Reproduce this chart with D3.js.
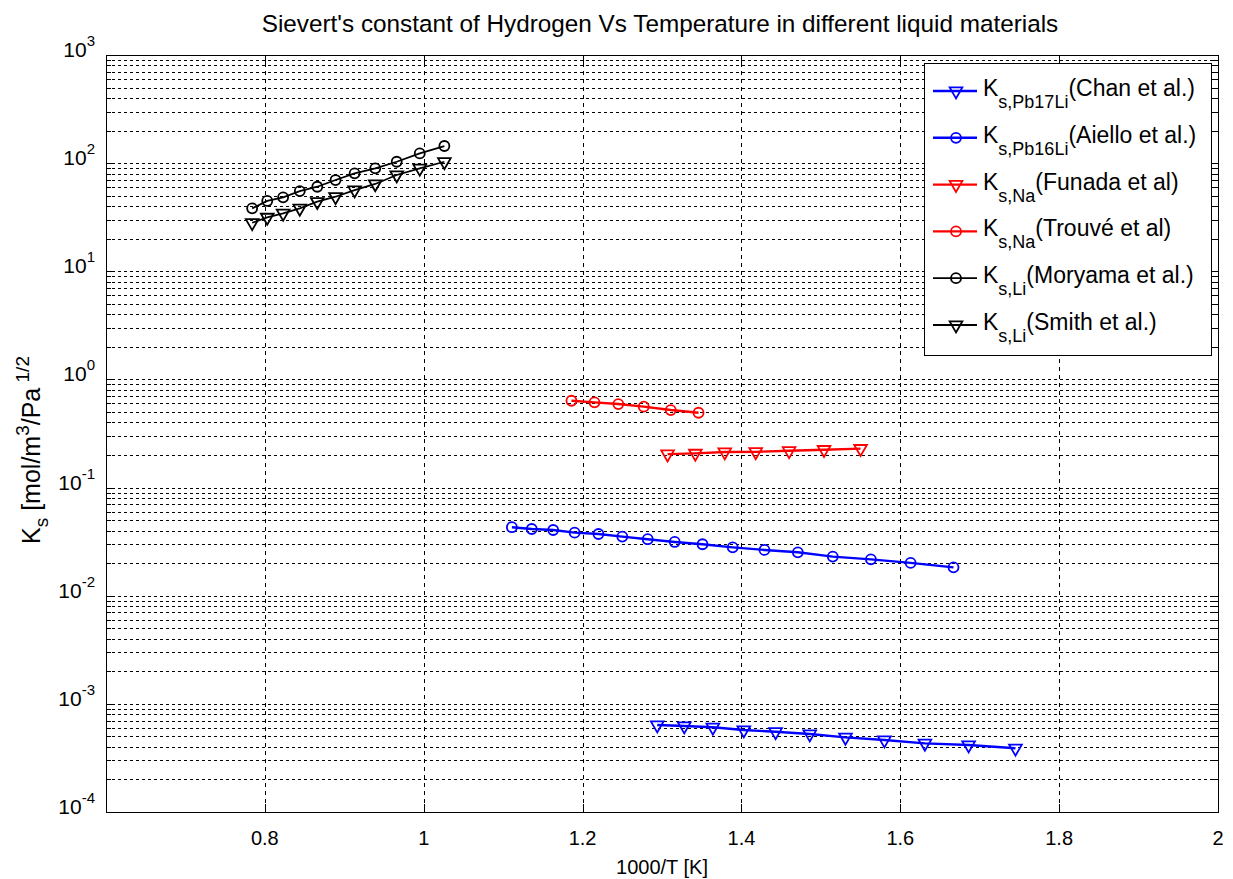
<!DOCTYPE html>
<meta charset="utf-8">
<script src="https://d3js.org/d3.v7.min.js"></script>
<style>
  body { margin: 0; background: #fff; }
  text { font-family: "Liberation Sans", Arial, sans-serif; fill: #000; }
</style>
<div id="my_dataviz"></div>
<script>
// ---- data (x = 1000/T, y = Ks) ----
var xChan = [1.294, 1.328, 1.364, 1.403, 1.443, 1.486, 1.531, 1.580, 1.631, 1.686, 1.745];
var yChan = [6.37e-4, 6.24e-4, 6.07e-4, 5.73e-4, 5.52e-4, 5.26e-4, 4.90e-4, 4.63e-4, 4.31e-4, 4.16e-4, 3.88e-4];

var xAiello = [1.111, 1.136, 1.163, 1.190, 1.220, 1.250, 1.282, 1.316, 1.351, 1.389, 1.429, 1.471, 1.515, 1.563, 1.613, 1.667];
var yAiello = [0.0430, 0.0414, 0.0405, 0.0383, 0.0372, 0.0352, 0.0333, 0.0314, 0.0299, 0.0280, 0.0265, 0.0252, 0.0230, 0.0217, 0.0201, 0.0183];

var xFunada = [1.307, 1.342, 1.379, 1.418, 1.460, 1.504, 1.550];
var yFunada = [0.204, 0.207, 0.213, 0.214, 0.219, 0.224, 0.229];

var xTrouve = [1.186, 1.215, 1.245, 1.277, 1.311, 1.346];
var yTrouve = [0.635, 0.614, 0.592, 0.560, 0.521, 0.492];

var xMoryama = [0.784, 0.803, 0.823, 0.844, 0.866, 0.889, 0.913, 0.939, 0.966, 0.995, 1.026];
var yMoryama = [38.2, 44.7, 48.3, 55.2, 60.5, 69.8, 80.5, 89.6, 103, 123, 144];

var xSmith = [0.784, 0.803, 0.823, 0.844, 0.866, 0.889, 0.913, 0.939, 0.966, 0.995, 1.026];
var ySmith = [28.1, 31.5, 34.4, 38.2, 44.0, 48.9, 56.4, 64.2, 77.7, 89.6, 103];

var xTicks = [0.8, 1, 1.2, 1.4, 1.6, 1.8, 2];
var yExponents = [-4, -3, -2, -1, 0, 1, 2, 3];

// series table built from the arrays above
var series = [
  {sub: "s,Pb17Li", name: "(Chan et al.)",     xs: xChan,    ys: yChan,    color: "#0000ff", marker: "tri"},
  {sub: "s,Pb16Li", name: "(Aiello et al.)",   xs: xAiello,  ys: yAiello,  color: "#0000ff", marker: "circ"},
  {sub: "s,Na",     name: "(Funada et al)",    xs: xFunada,  ys: yFunada,  color: "#ff0000", marker: "tri"},
  {sub: "s,Na",     name: "(Trouvé et al)",    xs: xTrouve,  ys: yTrouve,  color: "#ff0000", marker: "circ"},
  {sub: "s,Li",     name: "(Moryama et al.)",  xs: xMoryama, ys: yMoryama, color: "#000000", marker: "circ"},
  {sub: "s,Li",     name: "(Smith et al.)",    xs: xSmith,   ys: ySmith,   color: "#000000", marker: "tri"}
];

// ---- layout ----
var W = 1233, H = 879;
var margin = {top: 55, right: 15, bottom: 67, left: 106},
    width = W - margin.left - margin.right,
    height = H - margin.top - margin.bottom;

var svg = d3.select("#my_dataviz").append("svg")
    .attr("width", W).attr("height", H);

var g = svg.append("g")
    .attr("transform", "translate(" + margin.left + "," + margin.top + ")");

var x = d3.scaleLinear().domain([0.6, 2]).range([0, width]);
var y = d3.scaleLog().domain([1e-4, 1e3]).range([height, 0]);

// all log ticks (major + minor)
var yAll = [];
yExponents.forEach(function(e) {
  if (e < 3) { for (var k = 1; k <= 9; k++) yAll.push(k * Math.pow(10, e)); }
  else yAll.push(Math.pow(10, e));
});

// grid
g.append("g").selectAll("line").data(yAll.filter(function(v) { return v > 1e-4 && v < 1e3; }))
  .enter().append("line")
    .attr("x1", 0).attr("x2", width)
    .attr("y1", function(d) { return Math.round(y(d)) + 0.5; })
    .attr("y2", function(d) { return Math.round(y(d)) + 0.5; })
    .attr("stroke", "#000").attr("stroke-width", 1).attr("stroke-dasharray", "3,3");

g.append("g").selectAll("line").data(xTicks.filter(function(v) { return v < 2; }))
  .enter().append("line")
    .attr("x1", function(d) { return Math.round(x(d)) + 0.5; })
    .attr("x2", function(d) { return Math.round(x(d)) + 0.5; })
    .attr("y1", 0).attr("y2", height)
    .attr("stroke", "#000").attr("stroke-width", 1).attr("stroke-dasharray", "4,4");

// tick marks (inside, on all four sides)
var yMajor = yExponents.map(function(e) { return Math.pow(10, e); });
var ticks = g.append("g").attr("stroke", "#000").attr("stroke-width", 1);
yAll.forEach(function(v) {
  var isMajor = yMajor.indexOf(v) >= 0;
  var len = isMajor ? 8 : 5;
  var yy = Math.round(y(v)) + 0.5;
  ticks.append("line").attr("x1", 0).attr("x2", len).attr("y1", yy).attr("y2", yy);
  ticks.append("line").attr("x1", width - len).attr("x2", width).attr("y1", yy).attr("y2", yy);
});
xTicks.forEach(function(v) {
  var xx = Math.round(x(v)) + 0.5;
  ticks.append("line").attr("x1", xx).attr("x2", xx).attr("y1", height).attr("y2", height - 8);
  ticks.append("line").attr("x1", xx).attr("x2", xx).attr("y1", 0).attr("y2", 8);
});

// box
g.append("rect").attr("x", 0.5).attr("y", 0.5).attr("width", width).attr("height", height)
  .attr("fill", "none").attr("stroke", "#000").attr("stroke-width", 1);

// y tick labels 10^n
yExponents.forEach(function(e) {
  var t = g.append("text")
      .attr("x", -11).attr("y", y(Math.pow(10, e)) + 2)
      .attr("text-anchor", "end")
      .style("font-size", "21px");
  t.append("tspan").text("10");
  t.append("tspan").attr("dy", -11).style("font-size", "15px").text(e);
});

// x tick labels
xTicks.forEach(function(v) {
  g.append("text")
    .attr("x", x(v)).attr("y", height + 33)
    .attr("text-anchor", "middle")
    .style("font-size", "20px")
    .text(d3.format("")(v));
});

// axis titles
svg.append("text")
  .attr("x", margin.left + width / 2).attr("y", 874)
  .attr("text-anchor", "middle").style("font-size", "20px")
  .text("1000/T [K]");

var yl = svg.append("text")
  .attr("transform", "translate(40,450) rotate(-90)")
  .attr("text-anchor", "middle").style("font-size", "25px");
yl.append("tspan").text("K");
yl.append("tspan").attr("dy", 8).style("font-size", "19px").text("s");
yl.append("tspan").attr("dy", -8).text(" [mol/m");
yl.append("tspan").attr("dy", -11).style("font-size", "19px").text("3");
yl.append("tspan").attr("dy", 11).text("/Pa");
yl.append("tspan").attr("dy", -11).style("font-size", "19px").text(" 1/2");

svg.append("text")
  .attr("x", 660).attr("y", 32)
  .attr("text-anchor", "middle").style("font-size", "24.3px")
  .text("Sievert's constant of Hydrogen Vs Temperature in different liquid materials");

// markers
var triPath = d3.symbol().type(d3.symbolTriangle).size(70)();
function drawMarker(sel, kind, color) {
  if (kind === "circ") {
    sel.append("circle").attr("r", 5)
      .attr("fill", "none").attr("stroke", color).attr("stroke-width", 1.8);
  } else {
    sel.append("path").attr("d", triPath).attr("transform", "rotate(180)")
      .attr("fill", "none").attr("stroke", color).attr("stroke-width", 1.8);
  }
}

// series lines and markers
var line = d3.line().x(function(d) { return x(d[0]); }).y(function(d) { return y(d[1]); });
series.forEach(function(s) {
  var pts = s.xs.map(function(v, i) { return [v, s.ys[i]]; });
  var lw = s.color === "#000000" ? 1.8 : 2.4;
  g.append("path").datum(pts)
    .attr("d", line).attr("fill", "none")
    .attr("stroke", s.color).attr("stroke-width", lw);
  g.append("g").selectAll("g").data(pts).enter().append("g")
    .attr("transform", function(d) { return "translate(" + x(d[0]) + "," + y(d[1]) + ")"; })
    .each(function() { drawMarker(d3.select(this), s.marker, s.color); });
});

// legend
var legend = svg.append("g");
legend.append("rect").attr("x", 924.5).attr("y", 63.5).attr("width", 287).attr("height", 292)
  .attr("fill", "#fff").attr("stroke", "#000").attr("stroke-width", 1);

series.forEach(function(s, i) {
  var ly = 91 + i * 46.8;
  var item = legend.append("g").attr("transform", "translate(0," + ly + ")");
  item.append("line").attr("x1", 933).attr("x2", 977).attr("y1", 0).attr("y2", 0)
    .attr("stroke", s.color).attr("stroke-width", s.color === "#000000" ? 1.8 : 2.4);
  drawMarker(item.append("g").attr("transform", "translate(956,0)"), s.marker, s.color);
  var t = item.append("text").attr("x", 983).attr("y", 5).style("font-size", "23px");
  t.append("tspan").text("K");
  t.append("tspan").attr("dy", 12).style("font-size", "18px").text(s.sub);
  t.append("tspan").attr("dy", -12).text(s.name);
});
</script>
